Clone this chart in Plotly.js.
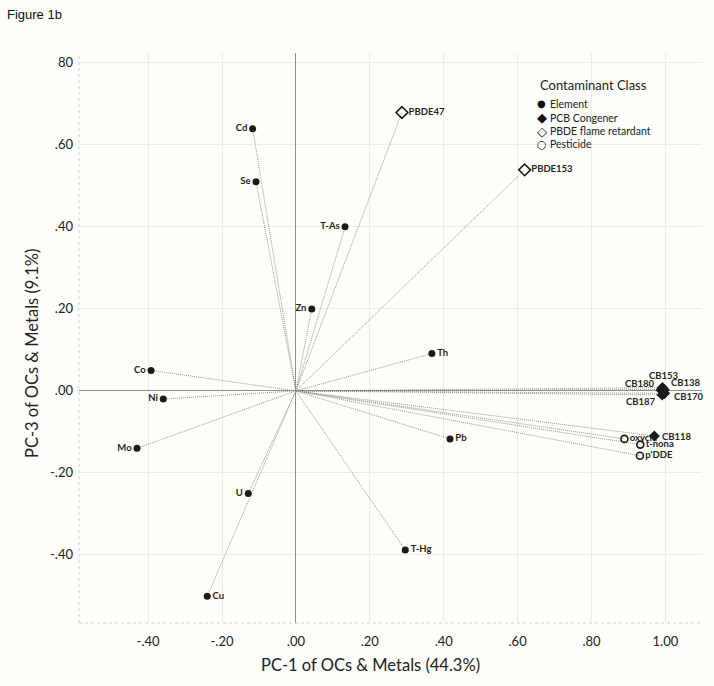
<!DOCTYPE html>
<html>
<head>
<meta charset="utf-8">
<script src="https://cdn.plot.ly/plotly-3.0.1.min.js"></script>
<style>
  html, body { margin: 0; padding: 0; background: #fdfdfa; }
  #chart { width: 714px; height: 686px; }
</style>
</head>
<body>
<div id="chart"></div>
<script>
// ---- data (loadings) ----
const elementNames = ['Cd', 'Se', 'T-As', 'Zn', 'Th', 'Co', 'Ni', 'Mo', 'Pb', 'U', 'T-Hg', 'Cu'];
const elementPC1   = [-0.117, -0.108, 0.133, 0.043, 0.368, -0.392, -0.359, -0.430, 0.417, -0.129, 0.296, -0.240];
const elementPC3   = [0.639, 0.510, 0.400, 0.200, 0.091, 0.050, -0.020, -0.140, -0.117, -0.250, -0.388, -0.501];

const pcbNames = ['CB153', 'CB180', 'CB138', 'CB170', 'CB187', 'CB118'];
const pcbPC1   = [0.992, 0.988, 0.997, 0.998, 0.991, 0.970];
const pcbPC3   = [0.008, 0.002, 0.003, -0.006, -0.010, -0.110];

const pbdeNames = ['PBDE47', 'PBDE153'];
const pbdePC1   = [0.287, 0.619];
const pbdePC3   = [0.679, 0.539];

const pestNames = ['oxychl', 't-nona', "p'DDE"];
const pestPC1   = [0.889, 0.932, 0.931];
const pestPC3   = [-0.117, -0.131, -0.158];

const xTickVals = [-0.4, -0.2, 0, 0.2, 0.4, 0.6, 0.8, 1.0];
const xTickText = ['-.40', '-.20', '.00', '.20', '.40', '.60', '.80', '1.00'];
const yTickVals = [-0.4, -0.2, 0, 0.2, 0.4, 0.6, 0.8];
const yTickText = ['-.40', '-.20', '.00', '.20', '.40', '.60', '80'];

const legendTitle = 'Contaminant Class';
const legendItems = ['Element', 'PCB Congener', 'PBDE flame retardant', 'Pesticide'];
const legendGlyphs = ['\u25CF', '\u25C6', '\u25C7', '\u25CB'];

// ---- label placement (style, not data) ----
const elementTextPos = ['middle left', 'middle left', 'middle left', 'middle left', 'middle right', 'middle left',
                        'middle left', 'middle left', 'middle right', 'middle left', 'middle right', 'middle right'];
// offsets for the crowded PCB cluster labels: [xanchor, xshift, yshift]
const pcbLabelPlace = [['center', 2, 12], ['right', -4, 7], ['left', 5, 7], ['left', 7, -3], ['right', -4, -6], ['left', 6, 0]];

// ---- build rays from origin ----
const allX = [].concat(elementPC1, pcbPC1, pbdePC1, pestPC1);
const allY = [].concat(elementPC3, pcbPC3, pbdePC3, pestPC3);
const rayX = [], rayY = [];
allX.forEach((x, i) => { rayX.push(0, x, null); rayY.push(0, allY[i], null); });

const labelFont = { family: 'Lato, "Open Sans", sans-serif', size: 9.5, color: '#262626', weight: 'bold' };

const traces = [
  { x: rayX, y: rayY, mode: 'lines', hoverinfo: 'skip', showlegend: false,
    line: { color: '#8a8a8a', width: 0.9, dash: '1px,1px' } },
  { x: elementPC1, y: elementPC3, text: elementNames, mode: 'markers+text', showlegend: false,
    textposition: elementTextPos, textfont: labelFont,
    marker: { symbol: 'circle', size: 7, color: '#1a1a1a' } },
  { x: pbdePC1, y: pbdePC3, text: pbdeNames, mode: 'markers+text', showlegend: false,
    textposition: 'middle right', textfont: labelFont,
    marker: { symbol: 'diamond-open', size: 9, color: '#1a1a1a', line: { width: 1.6, color: '#1a1a1a' } } },
  { x: pestPC1, y: pestPC3, text: pestNames, mode: 'markers+text', showlegend: false,
    textposition: 'middle right', textfont: labelFont,
    marker: { symbol: 'circle-open', size: 7, color: '#1a1a1a', line: { width: 1.6, color: '#1a1a1a' } } },
  { x: pcbPC1, y: pcbPC3, mode: 'markers', showlegend: false,
    marker: { symbol: 'diamond', size: 8.5, color: '#1a1a1a' } }
];

// plot area in pixels: x 79..702, y 53..623
const L = 79, R = 702, T = 53, B = 623;
const px = v => (v - L) / (R - L);
const py = v => (B - v) / (B - T);

const annotations = [
  { xref: 'paper', yref: 'paper', x: px(370), y: py(665), text: 'PC-1 of OCs &amp; Metals (44.3%)',
    showarrow: false, xanchor: 'center', yanchor: 'middle',
    font: { family: 'Lato, sans-serif', size: 16.5, color: '#222' } },
  { xref: 'paper', yref: 'paper', x: px(32), y: py(354), text: 'PC-3 of OCs &amp; Metals (9.1%)',
    showarrow: false, xanchor: 'center', yanchor: 'middle', textangle: -90,
    font: { family: 'Lato, sans-serif', size: 16.5, color: '#222' } },
  { xref: 'paper', yref: 'paper', x: px(538), y: py(85), text: legendTitle,
    showarrow: false, xanchor: 'left', yanchor: 'middle',
    font: { family: 'Lato, sans-serif', size: 13, color: '#222' } }
];
pcbNames.forEach((n, i) => {
  const p = pcbLabelPlace[i];
  annotations.push({ xref: 'x', yref: 'y', x: pcbPC1[i], y: pcbPC3[i], text: n, showarrow: false,
    xanchor: p[0], yanchor: 'middle', xshift: p[1], yshift: p[2], font: labelFont });
});
const legendY = [104, 117.5, 131, 144];
const glyphSize = [10, 13, 13, 11];
legendItems.forEach((t, i) => {
  annotations.push({ xref: 'paper', yref: 'paper', x: px(541.5), y: py(legendY[i]), text: legendGlyphs[i],
    showarrow: false, xanchor: 'center', yanchor: 'middle',
    font: { family: '"DejaVu Sans", sans-serif', size: glyphSize[i], color: '#111' } });
  annotations.push({ xref: 'paper', yref: 'paper', x: px(547.5), y: py(legendY[i]), text: t,
    showarrow: false, xanchor: 'left', yanchor: 'middle',
    font: { family: 'Lato, sans-serif', size: 10.5, color: '#222' } });
});

const layout = {
  width: 714, height: 686,
  margin: { l: L, r: 714 - R, t: T, b: 686 - B, pad: 0 },
  paper_bgcolor: '#fdfdfa', plot_bgcolor: '#fdfdfa',
  title: { text: 'Figure 1b', xref: 'container', yref: 'container', x: 7 / 714, xanchor: 'left',
           y: 1 - 14 / 686, yanchor: 'middle',
           font: { family: '"Liberation Sans", Arial, sans-serif', size: 13, color: '#111' } },
  xaxis: {
    range: [-0.587, 1.099], tickvals: xTickVals, ticktext: xTickText, ticks: '',
    showgrid: true, gridcolor: '#ecece6', gridwidth: 1,
    zeroline: true, zerolinecolor: '#8f8f8f', zerolinewidth: 1,
    showline: false, ticklabelstandoff: 9,
    tickfont: { family: 'Lato, sans-serif', size: 13, color: '#222' }
  },
  yaxis: {
    range: [-0.566, 0.824], tickvals: yTickVals, ticktext: yTickText, ticks: '',
    showgrid: true, gridcolor: '#ecece6', gridwidth: 1,
    zeroline: true, zerolinecolor: '#8f8f8f', zerolinewidth: 1,
    showline: false, ticklabelstandoff: 5,
    tickfont: { family: 'Lato, sans-serif', size: 13, color: '#222' }
  },
  shapes: [
    { type: 'line', xref: 'paper', yref: 'paper', x0: 0, x1: 0, y0: 0, y1: 1,
      line: { color: '#cfcfca', width: 1, dash: 'dot' } },
    { type: 'line', xref: 'paper', yref: 'paper', x0: 0, x1: 1, y0: 0, y1: 0,
      line: { color: '#cfcfca', width: 1, dash: 'dot' } }
  ],
  annotations: annotations,
  showlegend: false
};

Plotly.newPlot('chart', traces, layout, { displayModeBar: false, staticPlot: true });
</script>
</body>
</html>
